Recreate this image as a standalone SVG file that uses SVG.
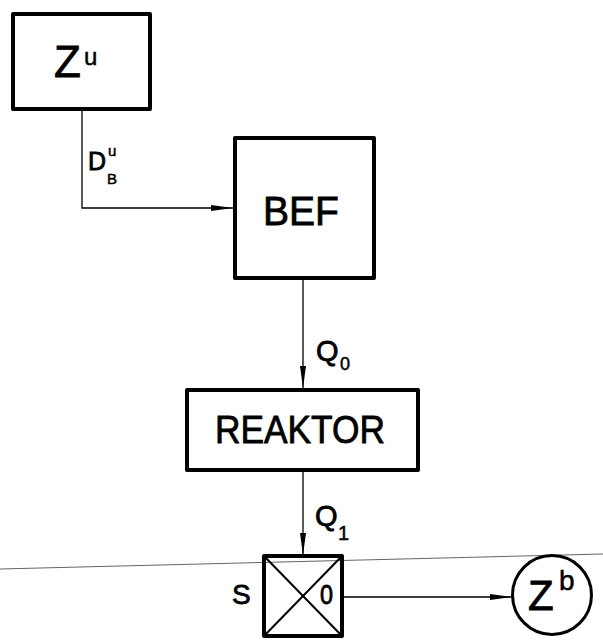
<svg xmlns="http://www.w3.org/2000/svg" width="603" height="642" viewBox="0 0 603 642">
<style>
.box{fill:none;stroke:#000;stroke-width:4;stroke-linejoin:round}
.ln{fill:none;stroke:#000;stroke-width:1.3}
.t{font-family:"Liberation Sans",Arial,sans-serif;fill:#000;stroke:#000;stroke-width:0.8}
.s{stroke-width:0.5}
</style>
<defs>
<marker id="ah" viewBox="0 0 22 8" refX="22" refY="4" markerWidth="22" markerHeight="8" markerUnits="userSpaceOnUse" orient="auto">
<path d="M0,1 L22,4 L0,7 Z" fill="#000"/>
</marker>
</defs>
<rect width="603" height="642" fill="#fff"/>
<line x1="0" y1="569" x2="603" y2="554" stroke="#666" stroke-width="1"/>
<g id="connectors">
<polyline class="ln" points="82,109 82,208 233,208" marker-end="url(#ah)"/>
<line class="ln" x1="303" y1="278" x2="303" y2="388" marker-end="url(#ah)"/>
<line class="ln" x1="303" y1="470" x2="303" y2="555" marker-end="url(#ah)"/>
<line class="ln" x1="342" y1="597" x2="512" y2="597" marker-end="url(#ah)"/>
<text class="t" x="88" y="170" font-size="25">D</text>
<text class="t s" x="108" y="156" font-size="15">u</text>
<text class="t s" x="107" y="184" font-size="15">B</text>
<text class="t" x="316" y="361" font-size="29">Q</text>
<text class="t s" x="340" y="370" font-size="18">0</text>
<text class="t" x="315" y="526" font-size="29">Q</text>
<text class="t s" x="338" y="540" font-size="20">1</text>
</g>
<g id="Zu">
<rect class="box" x="13" y="14" width="137" height="95"/>
<text class="t" x="54" y="77" font-size="44">Z</text>
<text class="t s" x="84" y="65" font-size="24">u</text>
</g>
<g id="BEF">
<rect class="box" x="235" y="138" width="139" height="140"/>
<text class="t" x="301" y="225" font-size="41" text-anchor="middle" textLength="76" lengthAdjust="spacingAndGlyphs">BEF</text>
</g>
<g id="REAKTOR">
<rect class="box" x="187" y="390" width="231" height="80"/>
<text class="t" x="300" y="443" font-size="39" text-anchor="middle" textLength="170" lengthAdjust="spacingAndGlyphs">REAKTOR</text>
</g>
<g id="S">
<rect class="box" x="264" y="556" width="78" height="80" stroke-width="3.5"/>
<line x1="264" y1="556" x2="342" y2="636" stroke="#000" stroke-width="2"/>
<line x1="342" y1="556" x2="264" y2="636" stroke="#000" stroke-width="2"/>
<text class="t" x="232" y="604" font-size="28">S</text>
<text class="t" x="320" y="604" font-size="27" textLength="13" lengthAdjust="spacingAndGlyphs">0</text>
</g>
<g id="Zb">
<circle cx="552" cy="595" r="39.5" fill="none" stroke="#000" stroke-width="3"/>
<text class="t" x="528" y="610" font-size="42">Z</text>
<text class="t s" x="559" y="590" font-size="28">b</text>
</g>
</svg>
